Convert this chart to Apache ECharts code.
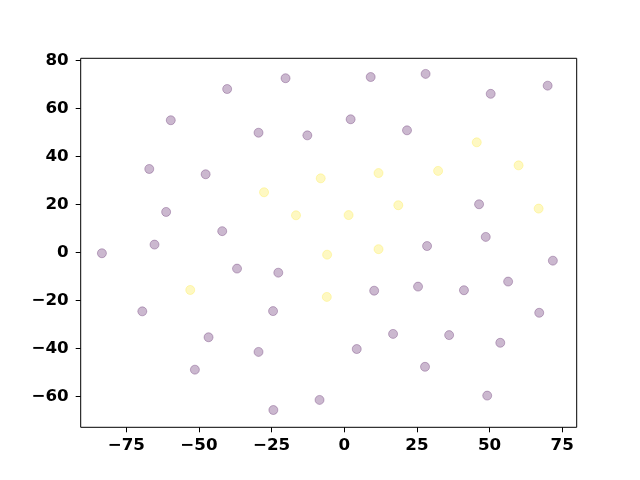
<!DOCTYPE html>
<html><head><meta charset="utf-8">
<script src="https://cdn.jsdelivr.net/npm/echarts@6/dist/echarts.min.js"></script>
<style>html,body{margin:0;padding:0;background:#fff}#c{width:640px;height:480px}</style>
</head><body><div id="c"></div>
<script>
const purpleX = [-59.7,-40.3,-20.2,2.2,-29.5,-12.7,-67.1,-47.7,-61.3,-42.0,-65.3,-83.4,9.1,28.0,50.4,70.0,21.6,46.4,28.5,48.7,-36.9,-22.7,-69.5,-24.5,-46.7,-29.5,-51.4,4.3,-8.5,-24.4,71.8,10.3,25.4,41.2,56.4,67.1,16.8,36.1,53.7,27.8,49.2];
const purpleY = [55.0,68.0,72.5,55.4,49.8,48.7,34.7,32.5,16.8,8.8,3.2,-0.4,73.0,74.3,66.0,69.4,50.8,20.0,2.6,6.4,-6.8,-8.5,-24.6,-24.5,-35.4,-41.5,-48.9,-40.3,-61.5,-65.7,-3.5,-16.0,-14.3,-15.8,-12.2,-25.2,-34.0,-34.5,-37.7,-47.7,-59.7];
const yellowX = [-27.6,-8.1,-16.6,1.5,45.6,11.8,32.3,60.0,18.6,66.9,11.8,-5.9,-53.0,-6.0];
const yellowY = [25.0,30.8,15.4,15.5,45.8,33.0,33.9,36.2,19.6,18.2,1.3,-1.0,-15.7,-18.6];
const xTicks = [-75,-50,-25,0,25,50,75];
const yTicks = [-60,-40,-20,0,20,40,60,80];

const zip = (a,b)=>a.map((v,i)=>[v,b[i]]);
const fmt = v => String(v).replace('-', '\u2212');
const labelStyle = {color:'#000', fontFamily:'DejaVu Sans', fontWeight:'bold', fontSize:16.7, formatter: fmt};
const chart = echarts.init(document.getElementById('c'), null, {renderer:'canvas'});
chart.setOption({
  animation:false,
  grid:{left:80.7, right:63.3, top:58.3, bottom:52.7, show:true, borderColor:'#000', borderWidth:1, backgroundColor:'transparent'},
  xAxis:{type:'value', min:-90.7, max:80.0, splitLine:{show:false},
    axisLine:{show:false, onZero:false},
    axisTick:{show:true, inside:false, length:5, lineStyle:{color:'#000'}, customValues:xTicks},
    axisLabel:Object.assign({margin:10, customValues:xTicks}, labelStyle)},
  yAxis:{type:'value', min:-72.9, max:80.8, splitLine:{show:false},
    axisLine:{show:false, onZero:false},
    axisTick:{show:true, inside:false, length:5, lineStyle:{color:'#000'}, customValues:yTicks},
    axisLabel:Object.assign({margin:12, customValues:yTicks}, labelStyle)},
  series:[
    {type:'scatter', data:zip(purpleX,purpleY), symbolSize:9,
     itemStyle:{color:'rgba(68,1,84,0.35)', borderColor:'rgba(68,1,84,0.35)', borderWidth:1}},
    {type:'scatter', data:zip(yellowX,yellowY), symbolSize:9,
     itemStyle:{color:'rgba(253,231,37,0.35)', borderColor:'rgba(253,231,37,0.35)', borderWidth:1}}
  ]
});
</script></body></html>
